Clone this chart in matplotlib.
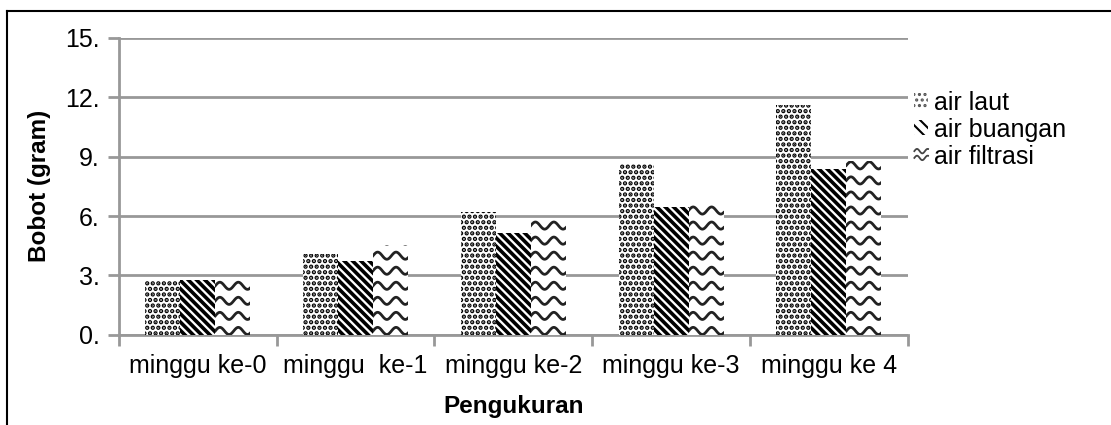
import matplotlib
matplotlib.use("Agg")
import matplotlib.pyplot as plt
import numpy as np
from matplotlib.patches import Patch
from matplotlib.lines import Line2D
from matplotlib.legend_handler import HandlerBase

weeks = ["minggu ke-0", "minggu  ke-1", "minggu ke-2", "minggu ke-3", "minggu ke 4"]
air_laut = [2.75, 4.1, 6.2, 8.65, 11.6]
air_buangan = [2.75, 3.75, 5.15, 6.45, 8.4]
air_filtrasi = [2.8, 4.55, 5.8, 6.7, 8.8]
series_names = ["air laut", "air buangan", "air filtrasi"]
yticks = [0, 3, 6, 9, 12, 15]
ytick_labels = ["0.", "3.", "6.", "9.", "12.", "15."]

plt.rcParams['font.family'] = ['Liberation Sans', 'DejaVu Sans']
grey = '#989898'
fs = 18

fig = plt.figure(figsize=(11.11, 4.25), dpi=100)
ax = fig.add_axes([0.107, 0.212, 0.71, 0.699])

x = np.arange(len(weeks))
w = 0.222

plt.rcParams['hatch.linewidth'] = 2.2
b1 = ax.bar(x - w, air_laut, w, color='white', edgecolor='black', hatch='...',
            linewidth=0, zorder=3)
plt.rcParams['hatch.linewidth'] = 2.6
b2 = ax.bar(x, air_buangan, w, color='white', edgecolor='black', hatch='\\\\\\\\',
            linewidth=0, zorder=3)
b3 = ax.bar(x + w, air_filtrasi, w, color='white', edgecolor='none',
            linewidth=0, zorder=3)

# wavy fill for the filtrasi bars
for rect in b3:
    x0, bw, h = rect.get_x(), rect.get_width(), rect.get_height()
    xs = np.linspace(x0, x0 + bw, 80)
    for base in np.arange(0.2, h + 0.5, 0.76):
        ys = base + 0.18 * np.sin(2 * np.pi * (xs - x0) / (bw / 1.9))
        ln, = ax.plot(xs, ys, color='#222222', lw=2, zorder=4)
        ln.set_clip_path(rect)

ax.set_xlim(-0.5, len(weeks) - 0.5)
ax.set_ylim(0, 15)
ax.set_yticks(yticks)
ax.set_yticklabels(ytick_labels)
ax.set_xticks(x)
ax.set_xticklabels(weeks)
ax.set_xticks(np.arange(-0.5, len(weeks), 1), minor=True)
ax.tick_params(axis='x', which='major', length=0, labelsize=fs, pad=14)
ax.tick_params(axis='x', which='minor', length=8, width=2, color=grey)
ax.tick_params(axis='y', length=8, width=2, color=grey, labelsize=fs, pad=6)

ax.grid(axis='y', color=grey, lw=2, zorder=0)
for s in ['top', 'right']:
    ax.spines[s].set_visible(False)
for s in ['left', 'bottom']:
    ax.spines[s].set_color(grey)
    ax.spines[s].set_linewidth(2)

ax.set_ylabel("Bobot (gram)", fontsize=fs - 0.5, fontweight='bold', labelpad=10)
ax.set_xlabel("Pengukuran", fontsize=fs - 0.5, fontweight='bold', labelpad=12)


class WaveHandler(HandlerBase):
    def create_artists(self, legend, orig, xd, yd, width, height, fontsize, trans):
        xs = np.linspace(0, width, 20) - xd
        arts = []
        for k in (0.3, 0.75):
            ys = k * height + 0.15 * height * np.sin(2 * np.pi * xs / width * 1.3) - yd
            arts.append(Line2D(xs, ys, color='#444444', lw=1.3, transform=trans))
        return arts


plt.rcParams['hatch.linewidth'] = 1.5
handles = [Patch(facecolor='white', edgecolor='#555555', hatch='...', lw=0),
           Patch(facecolor='white', edgecolor='black', hatch='\\\\\\', lw=0),
           Patch(facecolor='white', edgecolor='none', lw=0)]
fig.legend(handles, series_names, loc='upper left', bbox_to_anchor=(0.814, 0.81),
           frameon=False, fontsize=fs, handlelength=0.55, handleheight=0.55,
           handletextpad=0.25, labelspacing=0.12, borderaxespad=0,
           handler_map={handles[2]: WaveHandler()})

# outer border (left and top only, as cropped)
fig.add_artist(Line2D([0.0063, 0.0063], [0, 0.974], color='black', lw=1.5,
                      transform=fig.transFigure))
fig.add_artist(Line2D([0.0063, 1], [0.974, 0.974], color='black', lw=1.5,
                      transform=fig.transFigure))

fig.savefig("out.png", dpi=100)
